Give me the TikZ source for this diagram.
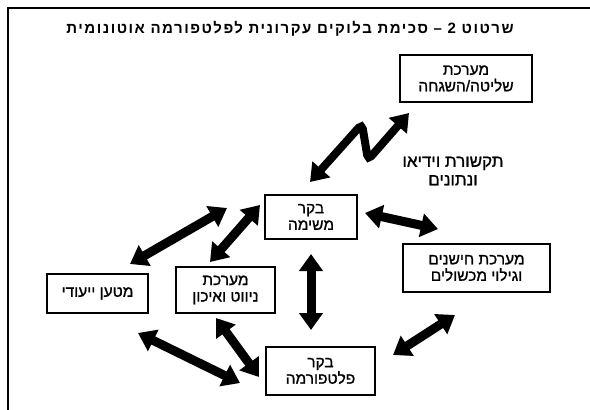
\documentclass[tikz,border=0pt]{standalone}
\usepackage{fontspec}
\setmainfont{Liberation Sans}
\newfontfamily\hebfont[Script=Hebrew, FakeBold=1.2]{Liberation Sans}
\newfontfamily\hebtitle[Script=Hebrew, LetterSpace=10]{Liberation Sans Bold}
\TeXXeTstate=1
\usetikzlibrary{arrows.meta}
\newcommand{\heb}[1]{\beginR #1\endR}
\begin{document}
\begin{tikzpicture}[x=1pt,y=-1pt,
  box/.style={draw, line width=1.6pt, align=center, inner sep=0pt,
    font=\hebfont\fontsize{15.5}{16.5}\selectfont},
  lbl/.style={align=center, inner sep=0pt, font=\hebfont\fontsize{17}{18.5}\selectfont},
  ttl/.style={inner sep=0pt, font=\hebtitle\fontsize{15}{18}\selectfont},
  dbl/.style={line width=9pt, {Triangle[width=23pt,length=17pt]}-{Triangle[width=23pt,length=17pt]}}]
\useasboundingbox (0,0) rectangle (590,410);
\draw[line width=1.6pt] (8,412) -- (8,8) -- (592,8);
\node[ttl] (title) at (290,29) {\heb{שרטוט 2 – סכימת בלוקים עקרונית לפלטפורמה אוטונומית}};
\node[box, minimum width=132pt, minimum height=47pt] (A) at (466,78.5) {\heb{מערכת}\\\heb{שליטה/השגחה}};
\node[box, minimum width=92pt, minimum height=44pt] (B) at (311,217) {\heb{בקר}\\\heb{משימה}};
\node[box, minimum width=147pt, minimum height=48pt] (C) at (476.5,268) {\heb{מערכת חישנים}\\\heb{וגילוי מכשולים}};
\node[box, minimum width=101pt, minimum height=39pt] (D) at (97.5,293.5) {\heb{מטען ייעודי}};
\node[box, minimum width=99pt, minimum height=46pt] (E) at (225.5,290) {\heb{מערכת}\\\heb{ניווט ואיכון}};
\node[box, minimum width=109pt, minimum height=48pt] (F) at (320.5,371) {\heb{בקר}\\\heb{פלטפורמה}};
\node[lbl] (comm) at (453,171) {\heb{תקשורת וידיאו}\\\heb{ונתונים}};
% arrow end points
\coordinate (ab1) at (310,182);
\coordinate (ab2) at (409,113);
\coordinate (bc1) at (365,213);
\coordinate (bc2) at (438,229);
\coordinate (bf1) at (311,254);
\coordinate (bf2) at (311,330);
\coordinate (be1) at (260,205);
\coordinate (be2) at (210,262);
\coordinate (bd1) at (227,208);
\coordinate (bd2) at (130,264);
\coordinate (df1) at (138,333);
\coordinate (df2) at (240,383);
\coordinate (ef1) at (216,318);
\coordinate (ef2) at (259,377);
\coordinate (cf1) at (455,315);
\coordinate (cf2) at (393,355);
\draw[dbl, line width=8pt, rounded corners=5pt] (ab1) -- (362,124) -- (368,160) -- (ab2);
\draw[dbl] (bc1) -- (bc2);
\draw[dbl] (bf1) -- (bf2);
\draw[dbl] (be1) -- (be2);
\draw[dbl] (bd1) -- (bd2);
\draw[dbl] (df1) -- (df2);
\draw[dbl] (ef1) -- (ef2);
\draw[dbl] (cf1) -- (cf2);
\end{tikzpicture}
\end{document}
